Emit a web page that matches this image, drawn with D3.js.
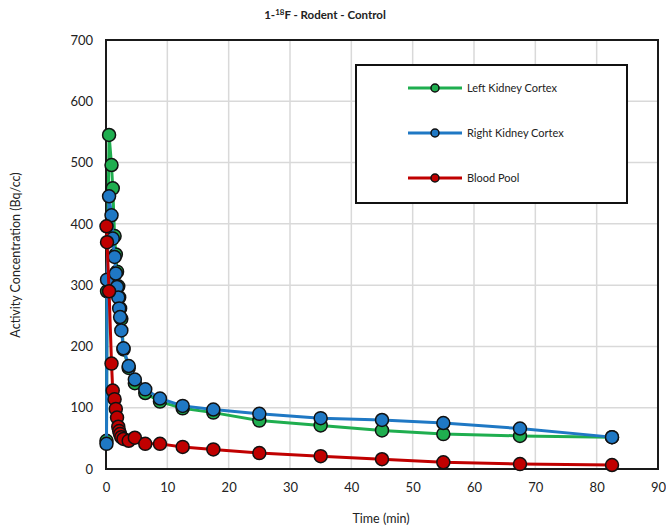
<!DOCTYPE html>
<html>
<head>
<meta charset="utf-8">
<script src="https://cdn.jsdelivr.net/npm/d3@7"></script>
<style>
  html, body { margin: 0; padding: 0; background: #fff; }
  svg { display: block; font-family: Lato, "Open Sans", "Liberation Sans", sans-serif; }
</style>
</head>
<body>
<svg id="chart" width="666" height="532"></svg>
<script>
// Frame mid-times (min)
const times = [0.08, 0.17, 0.5, 0.9, 1.1, 1.4, 1.6, 1.8, 2.0, 2.15, 2.3, 2.5, 2.85, 3.7, 4.7, 6.4, 8.8, 12.5, 17.5, 25, 35, 45, 55, 67.5, 82.5];

// Activity concentration (Bq/cc) per region
const leftKidney  = [46, 290, 545, 496, 458, 380, 350, 322, 298, 280, 262, 245, 195, 165, 140, 124, 110, 99, 92, 79, 71, 63, 57, 54, 52];
const rightKidney = [41, 309, 445, 414, 376, 346, 319, 297, 280, 262, 248, 226, 197, 168, 146, 130, 115, 103, 97, 90, 83, 80, 75, 66, 52];
const bloodPool   = [396, 370, 290, 172, 128, 114, 98, 84, 69, 62, 57, 52, 49, 46, 51, 41, 41, 36, 32, 26, 21, 16, 11, 8, 6.5];

const seriesNames = ["Left Kidney Cortex", "Right Kidney Cortex", "Blood Pool"];
const seriesColors = ["#1fae4f", "#1f78c4", "#c00000"];
const seriesValues = [leftKidney, rightKidney, bloodPool];

const xTicks = [0, 10, 20, 30, 40, 50, 60, 70, 80, 90];
const yTicks = [0, 100, 200, 300, 400, 500, 600, 700];

const svg = d3.select("#chart");
const plot = { left: 106, right: 658, top: 40, bottom: 469 };

const x = d3.scaleLinear().domain([0, 90]).range([plot.left, plot.right]);
const y = d3.scaleLinear().domain([0, 700]).range([plot.bottom, plot.top]);

// Gridlines
const grid = svg.append("g");
grid.selectAll("line.vg").data(xTicks.slice(1, -1)).join("line")
  .attr("x1", d => x(d)).attr("x2", d => x(d))
  .attr("y1", plot.top).attr("y2", plot.bottom)
  .attr("stroke", "#d9d9d9").attr("stroke-width", 1.5);
grid.selectAll("line.hg").data(yTicks.slice(1, -1)).join("line")
  .attr("x1", plot.left).attr("x2", plot.right)
  .attr("y1", d => y(d)).attr("y2", d => y(d))
  .attr("stroke", "#d9d9d9").attr("stroke-width", 1.5);

// Axes (labels only; the frame is drawn separately)
const xAxis = svg.append("g")
  .attr("transform", `translate(0,${plot.bottom})`)
  .call(d3.axisBottom(x).tickValues(xTicks).tickSize(0).tickPadding(14));
const yAxis = svg.append("g")
  .attr("transform", `translate(${plot.left},0)`)
  .call(d3.axisLeft(y).tickValues(yTicks).tickSize(0).tickPadding(13));
[xAxis, yAxis].forEach(a => {
  a.select(".domain").remove();
  a.selectAll("text").attr("font-size", 13).attr("fill", "#222")
    .style("font-family", "Lato, 'Open Sans', sans-serif");
});

// Plot frame
svg.append("rect")
  .attr("x", plot.left).attr("y", plot.top)
  .attr("width", plot.right - plot.left).attr("height", plot.bottom - plot.top)
  .attr("fill", "none").attr("stroke", "#1a1a1a").attr("stroke-width", 2);

// Series
const line = d3.line().x(d => x(d[0])).y(d => y(d[1]));
seriesValues.forEach((vals, i) => {
  const pts = times.map((t, k) => [t, vals[k]]);
  const g = svg.append("g");
  g.append("path").datum(pts)
    .attr("d", line).attr("fill", "none")
    .attr("stroke", seriesColors[i]).attr("stroke-width", 3)
    .attr("stroke-linejoin", "round");
  g.selectAll("circle").data(pts).join("circle")
    .attr("cx", d => x(d[0])).attr("cy", d => y(d[1]))
    .attr("r", 6.5)
    .attr("fill", seriesColors[i])
    .attr("stroke", "#111").attr("stroke-width", 1.5);
});

// Legend
const legend = svg.append("g");
legend.append("rect")
  .attr("x", 356).attr("y", 65).attr("width", 271).attr("height", 138)
  .attr("fill", "#fff").attr("stroke", "#111").attr("stroke-width", 2);
seriesNames.forEach((name, i) => {
  const ly = 88 + i * 45;
  legend.append("line")
    .attr("x1", 408).attr("x2", 462).attr("y1", ly).attr("y2", ly)
    .attr("stroke", seriesColors[i]).attr("stroke-width", 3);
  legend.append("circle")
    .attr("cx", 435).attr("cy", ly).attr("r", 4)
    .attr("fill", seriesColors[i]).attr("stroke", "#111").attr("stroke-width", 1.5);
  legend.append("text")
    .attr("x", 467).attr("y", ly + 4)
    .attr("font-size", 11).attr("fill", "#222")
    .text(name);
});

// Title
const title = svg.append("text")
  .attr("x", 325).attr("y", 19)
  .attr("text-anchor", "middle")
  .attr("font-size", 11.5).attr("font-weight", "bold").attr("fill", "#222");
title.append("tspan").text("1-");
title.append("tspan").attr("font-size", 8).attr("dy", -4).text("18");
title.append("tspan").attr("dy", 4).text("F - Rodent - Control");

// Axis titles
svg.append("text")
  .attr("x", 381).attr("y", 523)
  .attr("text-anchor", "middle")
  .attr("font-size", 12.5).attr("fill", "#222")
  .text("Time (min)");
svg.append("text")
  .attr("transform", "translate(20,255) rotate(-90)")
  .attr("text-anchor", "middle")
  .attr("font-size", 12.5).attr("fill", "#222")
  .text("Activity Concentration (Bq/cc)");
</script>
</body>
</html>
